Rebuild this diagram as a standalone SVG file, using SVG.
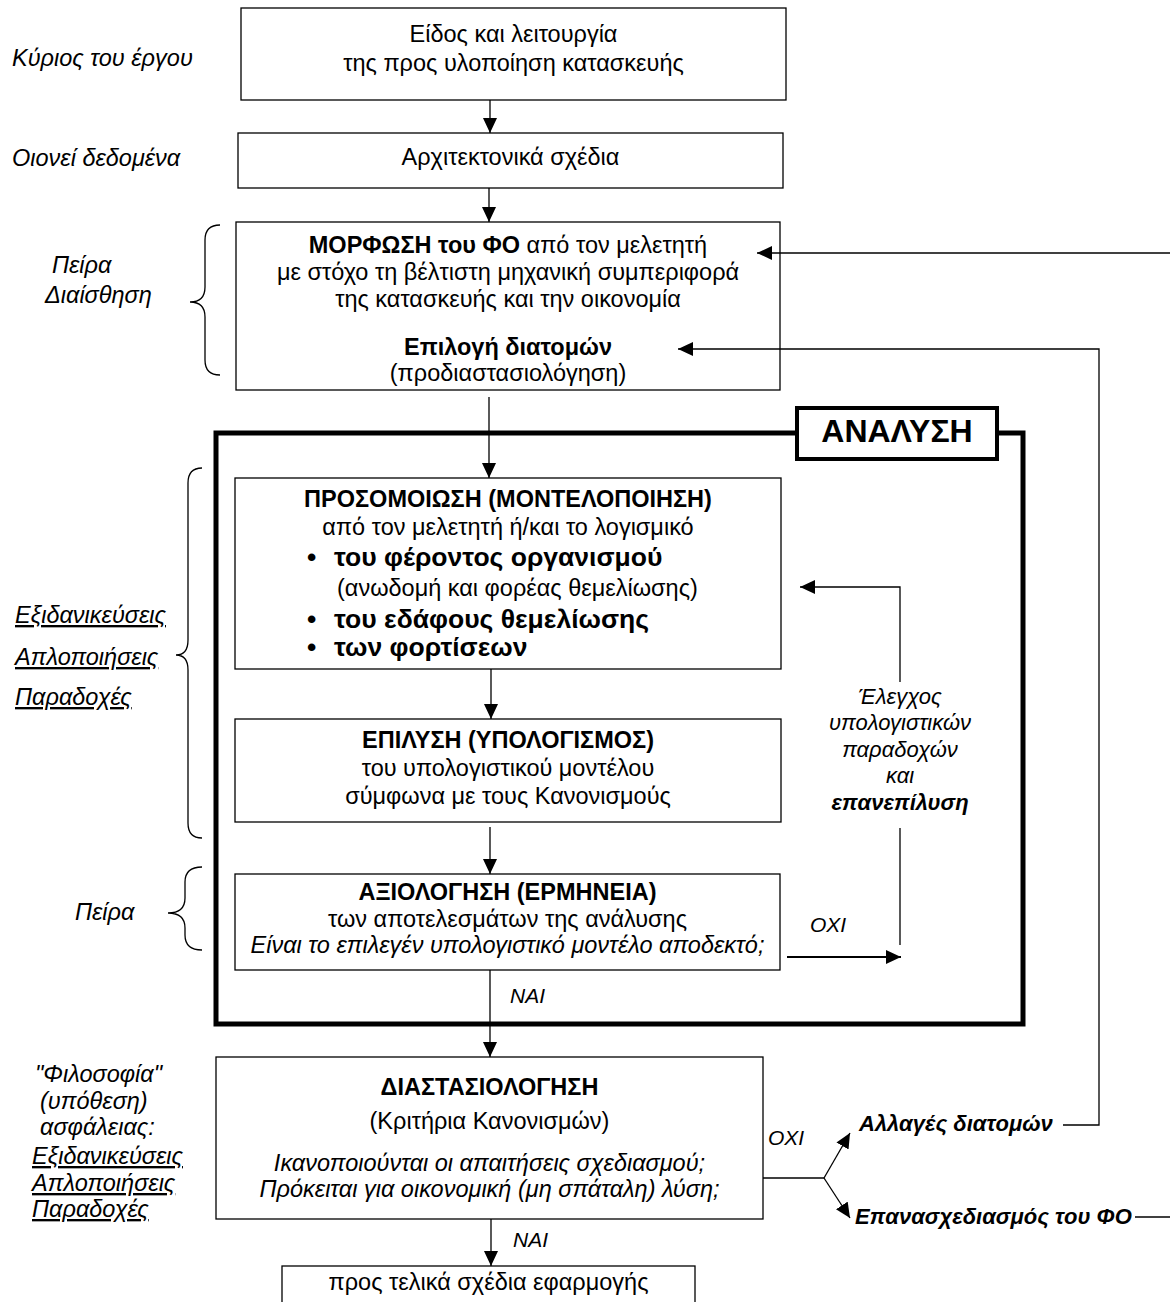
<svg xmlns="http://www.w3.org/2000/svg" width="1170" height="1302" viewBox="0 0 1170 1302">
<defs>
<style>
text { font-family: "Liberation Sans", Arial, "DejaVu Sans", sans-serif; fill: #000; }
.c { font-size: 23.5px; text-anchor: middle; }
.b { font-weight: bold; }
.i { font-style: italic; }
.lab { font-size: 23.5px; font-style: italic; }
.u { text-decoration: underline; }
.sm { font-size: 22px; }
.yn { font-size: 21px; font-style: italic; }
.big { font-size: 26.5px; font-weight: bold; }
.box { fill: #fff; stroke: #000; stroke-width: 1.3; }
.ln { fill: none; stroke: #000; stroke-width: 1.3; }
.arr { fill: none; stroke: #000; stroke-width: 1.3; marker-end: url(#ah); }
</style>
<marker id="ah" markerUnits="userSpaceOnUse" markerWidth="16" markerHeight="14" refX="15" refY="7" orient="auto">
<path d="M0,0 L15,7 L0,14 z" fill="#000"/>
</marker>
</defs>
<rect width="1170" height="1302" fill="#fff"/>

<g id="analysis-frame">
<rect x="216" y="433" width="807" height="591" fill="none" stroke="#000" stroke-width="5"/>
</g>

<g id="n1">
<rect class="box" x="241" y="8" width="545" height="92"/>
<text class="c" x="513.5" y="42">Είδος και λειτουργία</text>
<text class="c" x="513.5" y="71">της προς υλοποίηση κατασκευής</text>
</g>

<g id="n2">
<rect class="box" x="238" y="133" width="545" height="55"/>
<text class="c" x="510.5" y="165">Αρχιτεκτονικά σχέδια</text>
</g>

<g id="n3">
<rect class="box" x="236" y="222" width="544" height="168"/>
<text class="c" x="508" y="253"><tspan class="b">ΜΟΡΦΩΣΗ του ΦΟ</tspan> από τον μελετητή</text>
<text class="c" x="508" y="280">με στόχο τη βέλτιστη μηχανική συμπεριφορά</text>
<text class="c" x="508" y="307">της κατασκευής και την οικονομία</text>
<text class="c b" x="508" y="355">Επιλογή διατομών</text>
<text class="c" x="508" y="381">(προδιαστασιολόγηση)</text>
</g>

<g id="analysis-label">
<rect x="797" y="408" width="200" height="51" fill="#fff" stroke="#000" stroke-width="4"/>
<text x="897" y="442" font-size="32" font-weight="bold" text-anchor="middle">ΑΝΑΛΥΣΗ</text>
</g>

<g id="n4">
<rect class="box" x="235" y="478" width="546" height="191"/>
<text class="c b" x="508" y="507">ΠΡΟΣΟΜΟΙΩΣΗ (ΜΟΝΤΕΛΟΠΟΙΗΣΗ)</text>
<text class="c" x="508" y="535">από τον μελετητή ή/και το λογισμικό</text>
<text class="big" x="307" y="566">•</text>
<text class="big" x="334" y="566">του φέροντος οργανισμού</text>
<text x="337" y="596" font-size="23.5">(ανωδομή και φορέας θεμελίωσης)</text>
<text class="big" x="307" y="628">•</text>
<text class="big" x="334" y="628">του εδάφους θεμελίωσης</text>
<text class="big" x="307" y="656">•</text>
<text class="big" x="334" y="656">των φορτίσεων</text>
</g>

<g id="n5">
<rect class="box" x="235" y="719" width="546" height="103"/>
<text class="c b" x="508" y="748">ΕΠΙΛΥΣΗ (ΥΠΟΛΟΓΙΣΜΟΣ)</text>
<text class="c" x="508" y="776">του υπολογιστικού μοντέλου</text>
<text class="c" x="508" y="804">σύμφωνα με τους Κανονισμούς</text>
</g>

<g id="n6">
<rect class="box" x="235" y="874" width="545" height="96"/>
<text class="c b" x="507.5" y="900">ΑΞΙΟΛΟΓΗΣΗ (ΕΡΜΗΝΕΙΑ)</text>
<text class="c" x="507.5" y="927">των αποτελεσμάτων της ανάλυσης</text>
<text class="c i" x="507.5" y="953">Είναι το επιλεγέν υπολογιστικό μοντέλο αποδεκτό;</text>
</g>

<g id="n7">
<rect class="box" x="216" y="1057" width="547" height="162"/>
<text class="c b" x="489.5" y="1095">ΔΙΑΣΤΑΣΙΟΛΟΓΗΣΗ</text>
<text class="c" x="489.5" y="1129">(Κριτήρια Κανονισμών)</text>
<text class="c i" x="489.5" y="1171">Ικανοποιούνται οι απαιτήσεις σχεδιασμού;</text>
<text class="c i" x="489.5" y="1197">Πρόκειται για οικονομική (μη σπάταλη) λύση;</text>
</g>

<g id="n8">
<rect class="box" x="282" y="1266" width="413" height="60"/>
<text class="c" x="488.5" y="1290">προς τελικά σχέδια εφαρμογής</text>
</g>

<g id="check-label">
<text class="sm i" x="900" y="704" text-anchor="middle">Έλεγχος</text>
<text class="sm i" x="900" y="730" text-anchor="middle">υπολογιστικών</text>
<text class="sm i" x="900" y="757" text-anchor="middle">παραδοχών</text>
<text class="sm i" x="900" y="783" text-anchor="middle">και</text>
<text class="sm i b" x="900" y="810" text-anchor="middle">επανεπίλυση</text>
</g>

<g id="yes-no">
<text class="yn" x="810" y="932">ΟΧΙ</text>
<text class="yn" x="510" y="1003">ΝΑΙ</text>
<text class="yn" x="768" y="1145">ΟΧΙ</text>
<text class="yn" x="513" y="1247">ΝΑΙ</text>
</g>

<g id="outcomes">
<text class="sm i b" x="859" y="1131">Αλλαγές διατομών</text>
<text class="sm i b" x="855" y="1224">Επανασχεδιασμός του ΦΟ</text>
</g>

<g id="side-labels">
<text class="lab" x="12" y="66">Κύριος του έργου</text>
<text class="lab" x="12" y="166">Οιονεί δεδομένα</text>
<text class="lab" x="52" y="273">Πείρα</text>
<text class="lab" x="45" y="303">Διαίσθηση</text>
<text class="lab u" x="15" y="623">Εξιδανικεύσεις</text>
<text class="lab u" x="15" y="665">Απλοποιήσεις</text>
<text class="lab u" x="15" y="705">Παραδοχές</text>
<text class="lab" x="75" y="920">Πείρα</text>
<text class="lab" x="35" y="1082">"Φιλοσοφία"</text>
<text class="lab" x="40" y="1109">(υπόθεση)</text>
<text class="lab" x="40" y="1135">ασφάλειας:</text>
<text class="lab u" x="32" y="1164">Εξιδανικεύσεις</text>
<text class="lab u" x="32" y="1191">Απλοποιήσεις</text>
<text class="lab u" x="32" y="1217">Παραδοχές</text>
</g>

<g id="braces">
<path class="ln" d="M220,225 Q205,225 205,240 L205,287 Q205,302 190,302 Q205,302 205,317 L205,360 Q205,375 220,375"/>
<path class="ln" d="M202,468 Q188,468 188,483 L188,640 Q188,655 176,655 Q188,655 188,670 L188,823 Q188,838 202,838"/>
<path class="ln" d="M202,867 Q185,867 185,882 L185,898 Q185,913 168,913 Q185,913 185,928 L185,935 Q185,950 202,950"/>
</g>

<g id="connectors">
<line class="arr" x1="490" y1="100" x2="490" y2="133"/>
<line class="arr" x1="489" y1="188" x2="489" y2="222"/>
<line class="arr" x1="489" y1="397" x2="489" y2="478"/>
<line class="arr" x1="491" y1="669" x2="491" y2="719"/>
<line class="arr" x1="490" y1="827" x2="490" y2="874"/>
<line class="arr" x1="490" y1="970" x2="490" y2="1057"/>
<line class="arr" x1="491" y1="1219" x2="491" y2="1266"/>
<line class="arr" x1="1170" y1="253" x2="757" y2="253"/>
<path class="arr" d="M1063,1125 L1099,1125 L1099,349 L678,349"/>
<path class="arr" d="M900,682 L900,587 L800,587"/>
<line class="ln" x1="900" y1="828" x2="900" y2="945"/>
<line x1="787" y1="957" x2="901" y2="957" stroke="#000" stroke-width="2" marker-end="url(#ah)"/>
<line class="ln" x1="763" y1="1178" x2="824" y2="1178"/>
<line class="arr" x1="824" y1="1178" x2="850" y2="1133"/>
<line class="arr" x1="824" y1="1178" x2="850" y2="1218"/>
<line class="ln" x1="1135" y1="1217" x2="1170" y2="1217"/>
</g>
</svg>
